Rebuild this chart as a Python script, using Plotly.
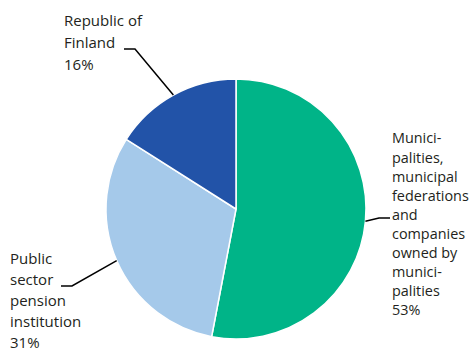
import math
import plotly.graph_objects as go

# Ownership shares (%)
categories = [
    "Municipalities, municipal federations and companies owned by municipalities",
    "Public sector pension institution",
    "Republic of Finland",
]
values = [53, 31, 16]
colors = ["#00b488", "#a5c9ea", "#2253a8"]

# Label text, one list entry per printed line
label_lines = [
    ["Munici-", "palities,", "municipal", "federations", "and", "companies",
     "owned by", "munici-", "palities", "53%"],
    ["Public", "sector", "pension", "institution", "31%"],
    ["Republic of", "Finland", "16%"],
]

W, H = 469, 351
CX, CY, R = 236, 209, 130  # pie centre and radius in pixels

# Label placement: left x, first-line centre y, line step, font size,
# leader elbow and end
label_layout = [
    dict(x=391, y0=138, step=19.0, size=14.4, elbow=(379, 218), end=(390, 218)),
    dict(x=9, y0=258, step=21.0, size=15, elbow=(72, 286), end=(61, 286)),
    dict(x=63, y0=20.5, step=21.7, size=15, elbow=(135, 49), end=(124, 49)),
]

TEXT_COLOR = "#231f20"
FONT = "Open Sans"


def px(x):
    return x / W


def py(y):
    return 1 - y / H


fig = go.Figure(
    go.Pie(
        labels=categories,
        values=values,
        sort=False,
        direction="clockwise",
        rotation=0,
        marker=dict(colors=colors, line=dict(color="white", width=1.5)),
        textinfo="none",
        hoverinfo="none",
        domain=dict(x=[px(CX - R), px(CX + R)], y=[py(CY + R), py(CY - R)]),
    )
)

annotations = []
shapes = []
total = sum(values)
cum = 0
for val, lines, lay in zip(values, label_lines, label_layout):
    mid = (cum + val / 2) / total * 2 * math.pi
    cum += val
    ex = CX + R * math.sin(mid)
    ey = CY - R * math.cos(mid)
    for i, line in enumerate(lines):
        annotations.append(dict(
            x=px(lay["x"]), y=py(lay["y0"] + i * lay["step"]),
            xref="paper", yref="paper", xanchor="left", yanchor="middle",
            text=line, showarrow=False, borderpad=0,
            font=dict(family=FONT, size=lay["size"], color=TEXT_COLOR),
        ))
    bx, by = lay["elbow"]
    tx, ty = lay["end"]
    shapes.append(dict(
        type="path", xref="paper", yref="paper",
        path=f"M {px(ex)} {py(ey)} L {px(bx)} {py(by)} L {px(tx)} {py(ty)}",
        line=dict(color="black", width=1.5),
    ))

fig.update_layout(
    width=W, height=H,
    margin=dict(l=0, r=0, t=0, b=0),
    paper_bgcolor="white",
    plot_bgcolor="white",
    showlegend=False,
    annotations=annotations,
    shapes=shapes,
)

fig.write_html("out.html")
